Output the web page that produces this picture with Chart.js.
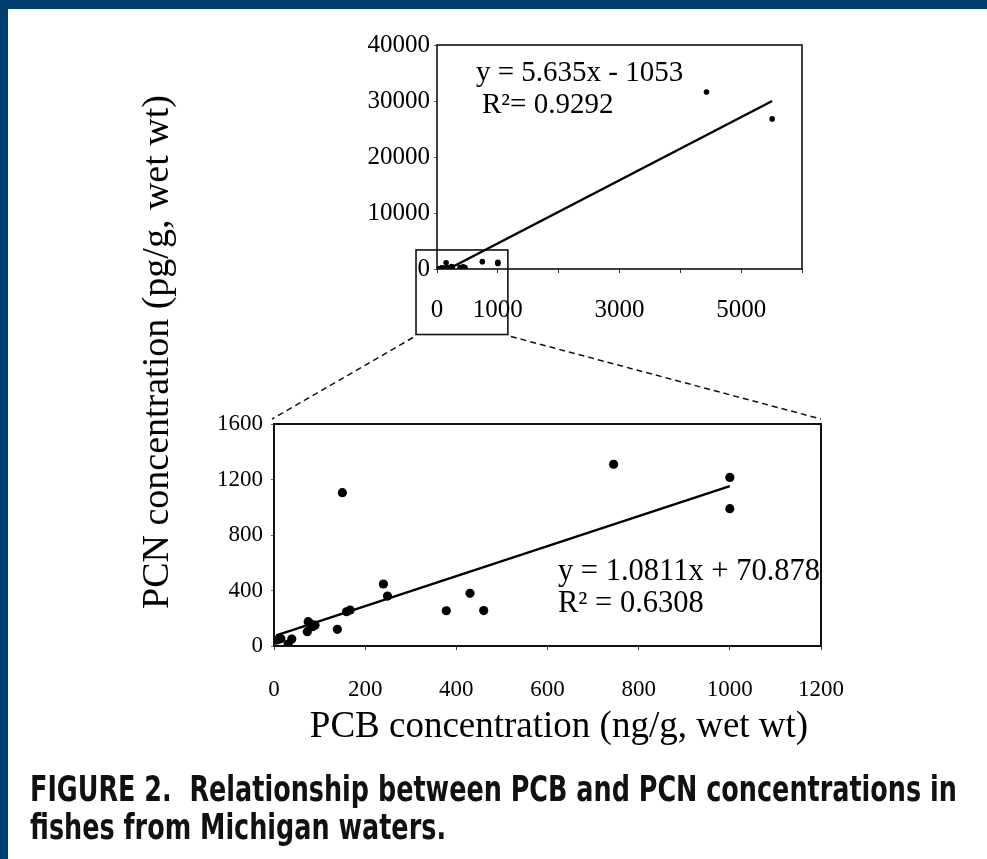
<!DOCTYPE html>
<html>
<head>
<meta charset="utf-8">
<script src="https://cdn.jsdelivr.net/npm/chart.js@4.4.1/dist/chart.umd.min.js"></script>
<style>
  html, body { margin: 0; padding: 0; }
  body { width: 987px; height: 859px; background: #003f72; position: relative; overflow: hidden; }
  #page { position: absolute; left: 8px; top: 9px; right: 0; bottom: 0; background: #fff; }
  canvas { position: absolute; left: 0; }
  .serif { font-family: "Liberation Serif", "Times New Roman", serif; color: #000; position: absolute; white-space: nowrap; }
  #ytitle { left: 155px; top: 352px; font-size: 38px; transform: translate(-50%, -50%) rotate(-90deg); }
  #xtitle { left: 559px; top: 724px; font-size: 37px; transform: translate(-50%, -50%); }
  .cap { position: absolute; left: 30px; font-family: "Liberation Sans Narrow", "DejaVu Sans Condensed", sans-serif;
         font-weight: bold; font-size: 35px; color: #111; white-space: nowrap; transform-origin: 0 0; line-height: 1; }
</style>
</head>
<body>
<div id="page"></div>
<canvas id="top" width="987" height="340" style="top:0"></canvas>
<canvas id="bottom" width="987" height="360" style="top:380px"></canvas>
<canvas id="overlay" width="987" height="859" style="top:0"></canvas>
<div id="ytitle" class="serif">PCN concentration (pg/g, wet wt)</div>
<div id="xtitle" class="serif">PCB concentration (ng/g, wet wt)</div>
<div id="cap1" class="cap" style="top:772px">FIGURE 2.&nbsp; Relationship between PCB and PCN concentrations in</div>
<div id="cap2" class="cap" style="top:810px">fishes from Michigan waters.</div>
<script>
// PCB (ng/g) vs PCN (pg/g)
const pcb = [6, 15, 10, 31, 39, 73, 75, 80, 85, 90, 139, 150, 159, 167, 240, 249, 378, 430, 460, 745, 1000, 1000, 4430, 5510];
const pcn = [43, 53, 48, 14, 50, 103, 175, 160, 140, 150, 120, 1105, 247, 259, 447, 360, 254, 380, 255, 1310, 1215, 990, 31600, 26800];

// trendlines as drawn
const fullTrendX = [187, 5510];
const fullTrendY = [0, 30000];
const zoomTrendX = [5, 1000];
const zoomTrendY = [76, 1152];

const topYTicks = [0, 10000, 20000, 30000, 40000];
const topXLabels = [0, 1000, 3000, 5000];
const bottomYTicks = [0, 400, 800, 1200, 1600];
const bottomXTicks = [0, 200, 400, 600, 800, 1000, 1200];

const SERIF = '"Liberation Serif", "Times New Roman", serif';

function pts(xs, ys) { return xs.map((x, i) => ({ x: x, y: ys[i] })); }

// box around plot area + equation text
const frameBox = {
  id: 'frameBox',
  afterDraw(chart, args, opts) {
    const { ctx, chartArea: a, scales } = chart;
    ctx.save();
    ctx.strokeStyle = '#111';
    ctx.lineWidth = opts.width || 2;
    ctx.strokeRect(a.left, a.top, a.right - a.left, a.bottom - a.top);
    ctx.fillStyle = '#000';
    ctx.font = (opts.eqSize || 27) + 'px ' + SERIF;
    ctx.textBaseline = 'middle';
    (opts.lines || []).forEach((l) => {
      ctx.fillText(l.text, scales.x.getPixelForValue(l.x), scales.y.getPixelForValue(l.y));
    });
    ctx.restore();
  }
};

function makeOptions(o) {
  return {
    responsive: false,
    animation: false,
    layout: { padding: o.padding },
    plugins: { legend: { display: false }, tooltip: { enabled: false },
      frameBox: { width: o.boxWidth, eqSize: o.eqSize, lines: o.lines } },
    scales: {
      x: {
        type: 'linear', min: o.xMin, max: o.xMax,
        border: { display: false },
        grid: { drawOnChartArea: false, drawTicks: true, tickLength: 4, color: '#333' },
        afterBuildTicks: (s) => { s.ticks = o.xTicks.map(v => ({ value: v })); },
        ticks: { color: '#000', font: { family: SERIF, size: o.tickSize }, padding: o.xPad, maxRotation: 0,
          autoSkip: false, callback: o.xLabel },
        afterFit: (s) => { s.height = o.xHeight; }
      },
      y: {
        type: 'linear', min: o.yMin, max: o.yMax,
        border: { display: false },
        grid: { drawOnChartArea: false, drawTicks: true, tickLength: 3, color: '#666' },
        afterBuildTicks: (s) => { s.ticks = o.yTicks.map(v => ({ value: v })); },
        ticks: { color: '#000', font: { family: SERIF, size: o.tickSize }, padding: o.yPad, autoSkip: false,
          callback: (v) => String(v) },
        afterFit: (s) => { s.width = o.yWidth; }
      }
    }
  };
}

const topChart = new Chart(document.getElementById('top'), {
  type: 'scatter',
  data: { datasets: [
    { data: pts(pcb, pcn), pointRadius: 2.8, backgroundColor: '#000', borderWidth: 0 },
    { data: pts(fullTrendX, fullTrendY), showLine: true, pointRadius: 0, borderColor: '#000', borderWidth: 2.4 }
  ] },
  options: makeOptions({
    padding: { left: 300, right: 185, top: 45, bottom: 21 },
    yWidth: 137, xHeight: 50, xMin: 0, xMax: 6000, yMin: 0, yMax: 40000,
    xTicks: [0, 1000, 2000, 3000, 4000, 5000, 6000], yTicks: topYTicks,
    xLabel: (v) => topXLabels.includes(v) ? String(v) : '',
    tickSize: 25, xPad: 22, yPad: 4, boxWidth: 1.6, eqSize: 29,
    lines: [ { text: 'y = 5.635x - 1053', x: 640, y: 35000 }, { text: 'R\u00b2= 0.9292', x: 740, y: 29300 } ]
  }),
  plugins: [frameBox]
});

const bottomChart = new Chart(document.getElementById('bottom'), {
  type: 'scatter',
  data: { datasets: [
    { data: pts(pcb, pcn), pointRadius: 4.6, backgroundColor: '#000', borderWidth: 0 },
    { data: pts(zoomTrendX, zoomTrendY), showLine: true, pointRadius: 0, borderColor: '#000', borderWidth: 2.4 }
  ] },
  options: makeOptions({
    padding: { left: 150, right: 166, top: 44, bottom: 34 },
    yWidth: 124, xHeight: 60, xMin: 0, xMax: 1200, yMin: 0, yMax: 1600,
    xTicks: bottomXTicks, yTicks: bottomYTicks, xLabel: (v) => String(v),
    tickSize: 23, xPad: 26, yPad: 8, boxWidth: 2, eqSize: 30.5,
    lines: [ { text: 'y = 1.0811x + 70.878', x: 623, y: 533 }, { text: 'R\u00b2 = 0.6308', x: 623, y: 303 } ]
  }),
  plugins: [frameBox]
});

// zoom rectangle on the top chart and dashed connectors to the lower chart
function drawOverlay() {
  const ov = document.getElementById('overlay');
  const ctx = ov.getContext('2d');
  ctx.clearRect(0, 0, ov.width, ov.height);
  const tx = topChart.scales.x, ty = topChart.scales.y;
  const bx0 = tx.getPixelForValue(-345), bx1 = tx.getPixelForValue(1165);
  const by0 = ty.getPixelForValue(3400), by1 = ty.getPixelForValue(-11700);
  const off = 380; // top of lower canvas
  const a = bottomChart.chartArea;
  ctx.save();
  ctx.strokeStyle = '#111';
  ctx.lineWidth = 1.6;
  ctx.strokeRect(bx0, by0, bx1 - bx0, by1 - by0);
  ctx.setLineDash([6, 4]);
  ctx.lineWidth = 1.5;
  ctx.beginPath();
  ctx.moveTo(bx0 - 3, by1 + 3); ctx.lineTo(a.left - 2, a.top + off - 5);
  ctx.moveTo(bx1 + 3, by1 + 2); ctx.lineTo(a.right, a.top + off - 5);
  ctx.stroke();
  ctx.restore();
}
drawOverlay();

// stretch caption to the reference width
const cap1 = document.getElementById('cap1');
const cap2 = document.getElementById('cap2');
const sx = 927 / cap1.offsetWidth;
cap1.style.transform = `scaleX(${sx})`;
cap2.style.transform = `scaleX(${sx})`;
</script>
</body>
</html>
